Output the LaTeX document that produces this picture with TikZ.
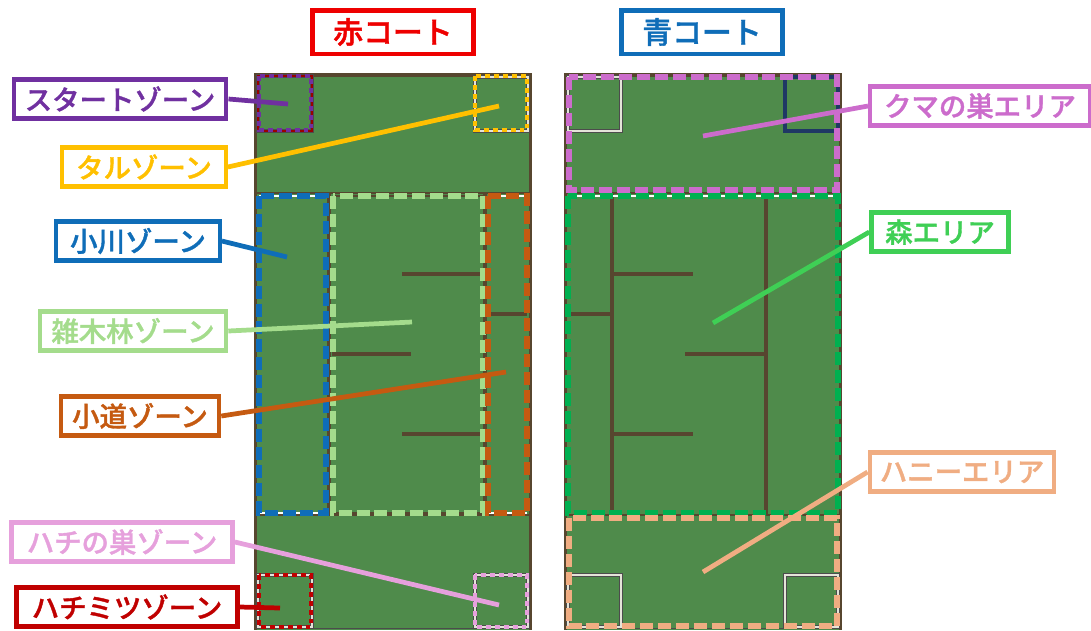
\documentclass[tikz,border=0pt]{standalone}
\usepackage{fontspec}
\usetikzlibrary{positioning}
\newfontfamily\jpfont{Noto Sans CJK JP Medium}[FakeBold=1.3]
\definecolor{courtgreen}{HTML}{4F8B4B}
\definecolor{wallbrown}{HTML}{57462F}
\definecolor{startcol}{HTML}{7030A0}
\definecolor{tarucol}{HTML}{FFC000}
\definecolor{ogawacol}{HTML}{0F6DB8}
\definecolor{zoukicol}{HTML}{A4DC8C}
\definecolor{komichicol}{HTML}{C55A11}
\definecolor{hachicol}{HTML}{E6A0DC}
\definecolor{mitsucol}{HTML}{C00000}
\definecolor{kumacol}{HTML}{CC6CCC}
\definecolor{moricol}{HTML}{3FCF55}
\definecolor{morizone}{HTML}{00B050}
\definecolor{honeycol}{HTML}{F0AD82}
\definecolor{akacol}{HTML}{EE0000}
\definecolor{navycol}{HTML}{1F3864}
\definecolor{boxwhite}{HTML}{E4E4D8}
\tikzset{
  tag/.style={draw=#1,text=#1,line width=2.5pt,fill=white,inner sep=0pt,anchor=center,
    font=\jpfont\fontsize{15.6}{15.6}\selectfont},
  title/.style={tag=#1,line width=2.8pt,font=\jpfont\fontsize{17}{17}\selectfont,
    minimum width=92pt,minimum height=25pt},
  conn/.style={draw=#1,line width=2.7pt},
  wall/.style={draw=wallbrown,line width=2pt},
  zone/.style={draw=#1,line width=3.1pt,dash pattern=on 7.4pt off 2.8pt},
  dotzone/.style={draw=#1,line width=2.5pt,dash pattern=on 2.8pt off 2.3pt},
  under/.style={draw=black!70,double=#1,double distance=1.1pt,line width=0.4pt},
  gapline/.style={draw=#1,line width=1pt},
}
\begin{document}
\begin{tikzpicture}[x=0.02cm,y=-0.02cm]
  \useasboundingbox (0,0) rectangle (1091,630);

  % courts
  \foreach \cx in {0,310} {
    \begin{scope}[xshift=\cx*0.02cm]
      \fill[wallbrown] (254,73) rectangle (532,630);
      \fill[courtgreen] (257,77) rectangle (529,630);
      \draw[wallbrown,line width=0.8pt] (257,193) -- (529,193);
      \draw[wallbrown,line width=0.8pt] (257,515) -- (529,515);
      \draw[black!70,line width=0.5pt] (257,628) -- (529,628);
    \end{scope}
  }

  % inner walls, red court
  \draw[wall] (329,193) -- (329,515);
  \draw[wall] (485,193) -- (485,515);
  \draw[wall] (402,274) -- (480,274);
  \draw[wall] (332,354) -- (411,354);
  \draw[wall] (402,434) -- (480,434);
  \draw[wall] (488,314) -- (527,314);

  % inner walls, blue court
  \draw[wall] (612,193) -- (612,515);
  \draw[wall] (766,193) -- (766,515);
  \draw[wall] (612,274) -- (693,274);
  \draw[wall] (685,354) -- (766,354);
  \draw[wall] (612,434) -- (693,434);
  \draw[wall] (570,314) -- (612,314);

  % corner boxes
  \draw[under=mitsucol!80!black] (258,76) rectangle (312,131);
  \draw[under=boxwhite] (475,77) rectangle (528,131);
  \draw[under=boxwhite] (258,575) rectangle (312,627);
  \draw[under=boxwhite] (475,575) rectangle (528,627);
  \draw[under=boxwhite] (568,77) rectangle (621,131);
  \draw[navycol,line width=2pt] (785,77) rectangle (838,131);
  \draw[under=boxwhite] (568,575) rectangle (621,627);
  \draw[under=boxwhite] (785,575) rectangle (838,627);

  % what shows through the dashes
  \draw[gapline=white] (259,196) -- (326,196);
  \draw[gapline=white] (259,513) -- (326,513);
  \draw[gapline=white] (488,196) -- (527,196);
  \draw[gapline=white] (488,513) -- (527,513);
  \draw[gapline=white] (568,196) -- (838,196);
  \draw[gapline=wallbrown] (333,196) -- (483,196);
  \draw[gapline=wallbrown] (333,513) -- (483,513);

  % zones, red court
  \draw[dotzone=startcol] (259,76) rectangle (311,130);
  \draw[dotzone=tarucol] (475,76) rectangle (527,130);
  \draw[zone=ogawacol] (259,196) rectangle (326,513);
  \draw[zone=zoukicol] (333,196) rectangle (483,513);
  \draw[zone=komichicol] (488,196) rectangle (527,513);
  \draw[dotzone=mitsucol] (259,575) rectangle (311,627);
  \draw[dotzone=hachicol] (475,575) rectangle (527,627);

  % zones, blue court
  \draw[zone=kumacol] (569,77) rectangle (837,190);
  \draw[zone=morizone] (568,196) rectangle (838,513);
  \draw[zone=honeycol] (569,518) rectangle (837,626);

  % connector ends
  \coordinate (startend) at (288,104);
  \coordinate (taruend) at (499,106);
  \coordinate (ogawaend) at (287,257);
  \coordinate (zoukiend) at (412,322);
  \coordinate (komichiend) at (506,372);
  \coordinate (hachiend) at (499,605);
  \coordinate (mitsuend) at (280,608);
  \coordinate (kumaend) at (703,136);
  \coordinate (moriend) at (713,323);
  \coordinate (honeyend) at (703,572);

  % labels
  \node[title=akacol] (aka) at (393,32) {赤コート};
  \node[title=ogawacol] (ao) at (702,32) {青コート};
  \node[tag=startcol,minimum width=121pt,minimum height=22pt] (start) at (120,99) {スタートゾーン};
  \node[tag=tarucol,minimum width=93pt,minimum height=22pt] (taru) at (144,167) {タルゾーン};
  \node[tag=ogawacol,minimum width=93pt,minimum height=22pt] (ogawa) at (138,241) {小川ゾーン};
  \node[tag=zoukicol,minimum width=106pt,minimum height=22pt] (zouki) at (133,331) {雑木林ゾーン};
  \node[tag=komichicol,minimum width=90pt,minimum height=22pt] (komichi) at (140,416) {小道ゾーン};
  \node[tag=hachicol,minimum width=126pt,minimum height=22pt] (hachi) at (122,542) {ハチの巣ゾーン};
  \node[tag=mitsucol,minimum width=126pt,minimum height=22pt] (mitsu) at (127,607) {ハチミツゾーン};
  \node[tag=kumacol,minimum width=125pt,minimum height=22pt] (kuma) at (980,106) {クマの巣エリア};
  \node[tag=moricol,minimum width=78pt,minimum height=22pt] (mori) at (940,232) {森エリア};
  \node[tag=honeycol,minimum width=105pt,minimum height=22pt] (honey) at (962,472) {ハニーエリア};

  % connectors
  \draw[conn=startcol] (start.east) -- (startend);
  \draw[conn=tarucol] (taru.east) -- (taruend);
  \draw[conn=ogawacol] (ogawa.east) -- (ogawaend);
  \draw[conn=zoukicol] (zouki.east) -- (zoukiend);
  \draw[conn=komichicol] (komichi.east) -- (komichiend);
  \draw[conn=hachicol] (hachi.east) -- (hachiend);
  \draw[conn=mitsucol] (mitsu.east) -- (mitsuend);
  \draw[conn=kumacol] (kuma.west) -- (kumaend);
  \draw[conn=moricol] (mori.west) -- (moriend);
  \draw[conn=honeycol] (honey.west) -- (honeyend);
\end{tikzpicture}
\end{document}
